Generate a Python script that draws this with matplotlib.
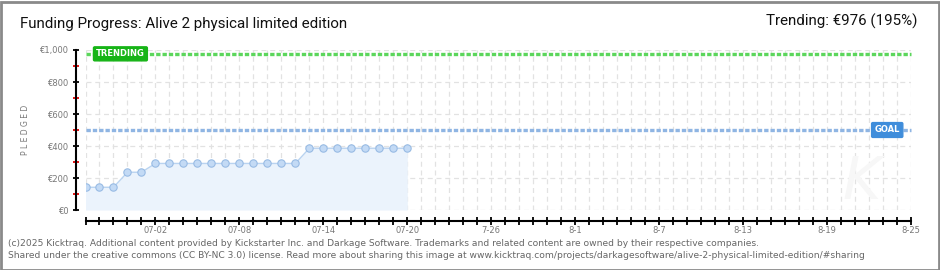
import matplotlib
matplotlib.use("Agg")
import matplotlib.pyplot as plt
from matplotlib.patches import Rectangle
from datetime import date

# ---- data ----
start = "06-27"
end = "08-25"
dates = ["06-27", "06-28", "06-29", "06-30", "07-01", "07-02", "07-03", "07-04",
         "07-05", "07-06", "07-07", "07-08", "07-09", "07-10", "07-11", "07-12",
         "07-13", "07-14", "07-15", "07-16", "07-17", "07-18", "07-19", "07-20"]
pledged = [142, 142, 142, 236, 236, 291, 291, 291, 291, 291, 291, 291, 291, 291,
           291, 291, 386, 386, 386, 386, 386, 386, 386, 386]
goal = 500
trending = 976
trending_pct = 195
xtick_dates = ["07-02", "07-08", "07-14", "07-20", "07-26", "08-01", "08-07",
               "08-13", "08-19", "08-25"]
xtick_labels = ["07-02", "07-08", "07-14", "07-20", "7-26", "8-1", "8-7",
                "8-13", "8-19", "8-25"]
yticks = [0, 200, 400, 600, 800, 1000]
ytick_labels = ["€0", "€200", "€400", "€600", "€800", "€1,000"]
yminor = [100, 300, 500, 700, 900]
title = "Funding Progress: Alive 2 physical limited edition"
footer1 = ("(c)2025 Kicktraq. Additional content provided by Kickstarter Inc. and Darkage "
           "Software. Trademarks and related content are owned by their respective companies.")
footer2 = ("Shared under the creative commons (CC BY-NC 3.0) license. Read more about sharing "
           "this image at www.kicktraq.com/projects/darkagesoftware/alive-2-physical-limited-edition/#sharing")


def day(s):
    m, d = map(int, s.split("-"))
    m0, d0 = map(int, start.split("-"))
    return (date(2025, m, d) - date(2025, m0, d0)).days


x = [day(s) for s in dates]
xmax = day(end)

W, H = 940, 270
PX = 72 / 100  # points per pixel
fig = plt.figure(figsize=(W / 100, H / 100), dpi=100)
fig.patch.set_facecolor("white")

ax = fig.add_axes([85.5 / W, 60 / H, (911 - 85.5) / W, 160 / H])
ax.set_xlim(0, xmax)
ax.set_ylim(0, 1000)

# grid
for d in range(0, xmax + 1):
    ax.plot([d, d], [0, 1000], color="#e2e2e2", lw=0.9, ls=(0, (4, 3)), zorder=0)
for yv in yticks:
    ax.plot([0, xmax], [yv, yv], color="#e2e2e2", lw=0.9, ls=(0, (4, 3)), zorder=0)

# watermark
ax.text(55.5, 170, "K", fontsize=42, color="#f7f7f7", ha="center", va="center",
        style="italic", zorder=0)

# data
ax.fill_between(x, pledged, 0, color="#ebf3fc", zorder=1, lw=0)
ax.plot(x, pledged, color="#b9d3f0", lw=1.0, zorder=2)
ax.plot(x, pledged, ls="none", marker="o", ms=5.3, mfc="#c3daf5", mec="#98bbe4",
        mew=0.8, zorder=3)

# goal and trending lines
ax.plot([0, xmax], [trending, trending], color="#5cd65c", lw=2.4,
        ls=(0, (1.3, 0.6)), zorder=2, clip_on=False)
ax.plot([0, xmax], [goal, goal], color="#8fb5e3", lw=2.4,
        ls=(0, (1.3, 0.6)), zorder=2, clip_on=False)

ax.text(0.75, trending, "TRENDING", fontsize=6, color="white", fontweight="bold",
        ha="left", va="center", zorder=5, clip_on=False,
        bbox=dict(boxstyle="round,pad=0.3,rounding_size=0.15", fc="#16b416", ec="#16b416"))
ax.text(57.3, goal, "GOAL", fontsize=6, color="white", fontweight="bold",
        ha="center", va="center", zorder=5, clip_on=False,
        bbox=dict(boxstyle="round,pad=0.35,rounding_size=0.15", fc="#3f8ddb", ec="#3f8ddb"))

# spines
for s in ["top", "right"]:
    ax.spines[s].set_visible(False)
ax.spines["left"].set_position(("outward", 9.5 * PX))
ax.spines["bottom"].set_position(("outward", 11 * PX))
ax.spines["left"].set_linewidth(1.5)
ax.spines["bottom"].set_linewidth(1.5)
ax.spines["left"].set_color("black")
ax.spines["bottom"].set_color("black")
ax.set_facecolor("none")

ax.set_yticks(yticks)
ax.set_yticklabels(ytick_labels)
ax.set_yticks(yminor, minor=True)
ax.tick_params(axis="y", which="major", direction="inout", length=5, width=1.3,
               color="black", labelsize=6, labelcolor="#777777", pad=3)
ax.tick_params(axis="y", which="minor", direction="inout", length=4.5, width=1.3,
               color="#e00000")

ax.set_xticks(range(0, xmax + 1), minor=True)
ax.set_xticks([day(s) for s in xtick_dates])
ax.set_xticklabels(xtick_labels)
ax.tick_params(axis="x", which="both", direction="inout", length=6, width=1.3,
               color="black")
ax.tick_params(axis="x", which="major", labelsize=6, labelcolor="#777777", pad=0.5)

fig.text(25 / W, 1 - 130 / H, "P L E D G E D", rotation=90, fontsize=5.5,
         color="#777777", ha="center", va="center")

# titles
fig.text(20 / W, 1 - 24 / H, title, fontsize=10.9, family="Roboto",
         color="#111111", ha="left", va="center")
fig.text(917 / W, 1 - 21 / H, f"Trending: €{trending} ({trending_pct}%)", fontsize=10.9,
         family="Roboto", color="#111111", ha="right", va="center")

# footer
fig.text(8 / W, 1 - 243 / H, footer1, fontsize=6.6, color="#666666", ha="left", va="center")
fig.text(8 / W, 1 - 255 / H, footer2, fontsize=6.6, color="#666666", ha="left", va="center")

# frame
fig.patches.append(Rectangle((0.5 / W, 0.5 / H), 1 - 2 / W, 1 - 2 / H, transform=fig.transFigure,
                             fill=False, ec="#8a8a8a", lw=2))

fig.savefig("out.png", dpi=100, facecolor="white")
